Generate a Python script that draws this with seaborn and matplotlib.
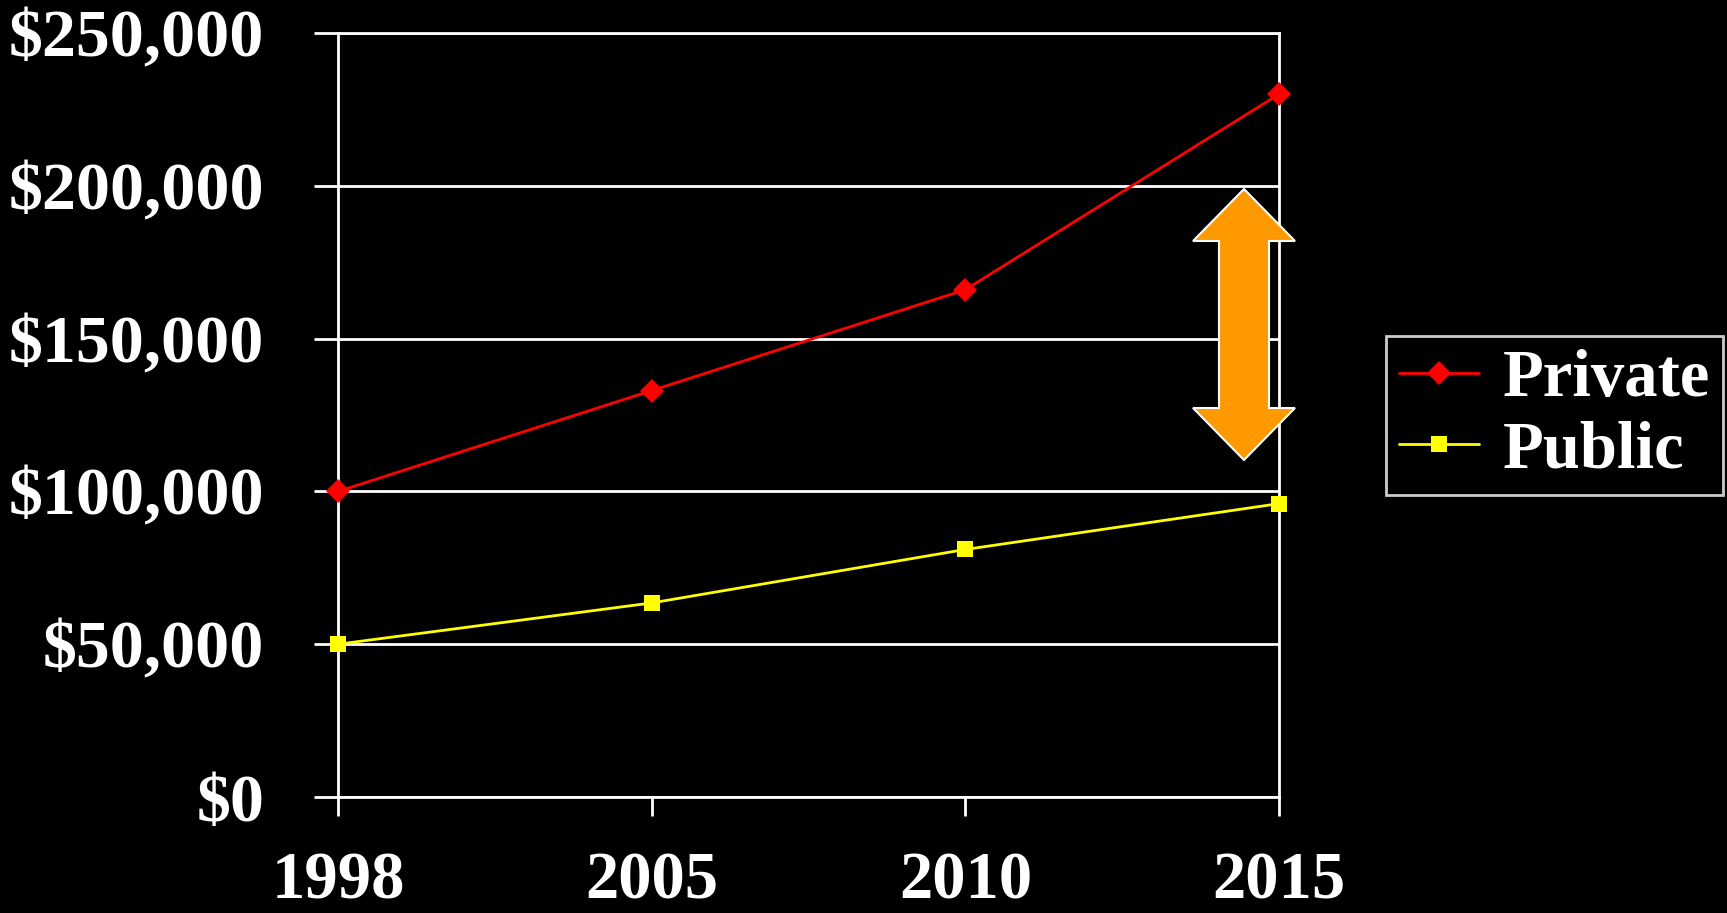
import matplotlib
matplotlib.use("Agg")
import matplotlib.pyplot as plt
import matplotlib.patches as mpatches
import numpy as np
import pandas as pd
import seaborn as sns

# Cost figures by year
years = ["1998", "2005", "2010", "2015"]
private_cost = [100000, 133000, 166000, 230000]
public_cost = [50000, 63500, 81000, 96000]
series_names = ["Private", "Public"]
y_ticks = [0, 50000, 100000, 150000, 200000, 250000]
y_tick_labels = ["$0", "$50,000", "$100,000", "$150,000", "$200,000", "$250,000"]

df = pd.DataFrame({
    "pos": list(range(len(years))) * 2,
    "cost": private_cost + public_cost,
    "series": [series_names[0]] * len(years) + [series_names[1]] * len(years),
})

sns.set_theme(style="dark")
plt.rcParams["font.family"] = ["Liberation Serif", "DejaVu Serif"]
plt.rcParams["font.weight"] = "bold"

W, H = 1727, 913
fig = plt.figure(figsize=(W / 100, H / 100), dpi=100, facecolor="black")
ax = fig.add_axes([338 / W, 1 - 797 / H, (1279 - 338) / W, (797 - 33) / H])
ax.set_facecolor("black")

sns.lineplot(
    data=df, x="pos", y="cost", hue="series", style="series",
    palette={"Private": "#FF0000", "Public": "#FFFF00"},
    markers={"Private": "D", "Public": "s"}, dashes=False,
    linewidth=2, markersize=12, markeredgewidth=0, ax=ax, legend=False,
    zorder=3,
)
for ln in ax.lines:
    ln.set_clip_on(False)

ax.set_xlim(0, len(years) - 1)
ax.set_ylim(0, 250000)
ax.set_xticks(range(len(years)))
ax.set_xticklabels(years)
ax.set_yticks(y_ticks)
ax.set_yticklabels(y_tick_labels)
ax.set_xlabel("")
ax.set_ylabel("")

ax.grid(False)
ax.yaxis.grid(True, color="white", linewidth=2)
for s in ax.spines.values():
    s.set_visible(True)
    s.set_color("white")
    s.set_linewidth(2)

ax.tick_params(axis="y", colors="white", labelsize=49, length=17, width=2,
               pad=36, left=True, direction="out")
ax.tick_params(axis="x", colors="white", labelsize=48, length=14, width=2,
               pad=25, bottom=True, direction="out")
for lab in ax.get_xticklabels() + ax.get_yticklabels():
    lab.set_fontweight("bold")
    lab.set_color("white")

# Legend
handles = [
    plt.Line2D([], [], color="#FF0000", marker="D", markersize=12, lw=2, markeredgewidth=0),
    plt.Line2D([], [], color="#FFFF00", marker="s", markersize=11, lw=2, markeredgewidth=0),
]
leg = fig.legend(
    handles, series_names, loc="upper left",
    bbox_to_anchor=(1386 / W, 1 - 336 / H), bbox_transform=fig.transFigure,
    frameon=True, fancybox=False, facecolor="black", edgecolor="white",
    prop={"family": "Liberation Serif", "weight": "bold", "size": 48},
    handlelength=1.2, handletextpad=0.35, borderpad=0.2, labelspacing=0.15,
    borderaxespad=0,
)
leg.get_frame().set_linewidth(2)
for t in leg.get_texts():
    t.set_color("white")

# Double-headed gap arrow
cx = 1244
half_head = 51
half_shaft = 25
top_tip, top_base, bot_base, bot_tip = 189, 241, 408, 460
pts_px = [
    (cx, top_tip), (cx + half_head, top_base), (cx + half_shaft, top_base),
    (cx + half_shaft, bot_base), (cx + half_head, bot_base), (cx, bot_tip),
    (cx - half_head, bot_base), (cx - half_shaft, bot_base),
    (cx - half_shaft, top_base), (cx - half_head, top_base),
]
pts = [(x / W, 1 - y / H) for x, y in pts_px]
arrow = mpatches.Polygon(pts, closed=True, transform=fig.transFigure,
                         facecolor="#FF9900", edgecolor="white", linewidth=1.5,
                         zorder=10)
fig.patches.append(arrow)

fig.savefig("out.png", dpi=100, facecolor="black")
